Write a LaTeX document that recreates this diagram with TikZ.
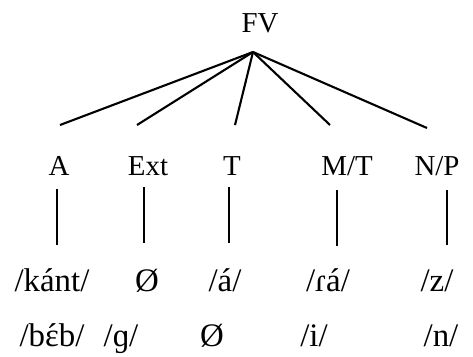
\documentclass[tikz,border=0pt]{standalone}
\usepackage{fontspec}
\setmainfont{Liberation Serif}
\newcommand{\epsacute}{\ooalign{ɛ\cr\hidewidth\symbol{"00B4}\hidewidth\cr}}
\begin{document}
\begin{tikzpicture}[x=1bp,y=-1bp,
  lbl/.style={anchor=base,inner sep=0pt,font=\fontsize{29}{30}\selectfont},
  ph/.style={anchor=base,inner sep=0pt,font=\fontsize{33}{34}\selectfont},
  br/.style={line width=2.1bp}]
\useasboundingbox (0,0) rectangle (473,356);
\node[lbl] (FV) at (260,32) {FV};
\coordinate (apex) at (253,52);
\node[lbl] (A) at (59,175) {A};
\node[lbl] (Ext) at (148,175) {Ext};
\node[lbl] (T) at (232,175) {T};
\node[lbl] (MT) at (347,175) {M/T};
\node[lbl] (NP) at (437,175) {N/P};
\coordinate (eA) at (60,125);
\coordinate (eExt) at (137,125);
\coordinate (eT) at (235,125);
\coordinate (eMT) at (330,125);
\coordinate (eNP) at (427,128);
\foreach \e in {eA,eExt,eT,eMT,eNP} \draw[br] (apex) -- (\e);
% vertical lines
\coordinate (vA1) at (57,189); \coordinate (vA2) at (57,245);
\coordinate (vE1) at (144,187); \coordinate (vE2) at (144,243);
\coordinate (vT1) at (229,187); \coordinate (vT2) at (229,243);
\coordinate (vM1) at (337,190); \coordinate (vM2) at (337,246);
\coordinate (vN1) at (447,190); \coordinate (vN2) at (447,245);
\draw[br] (vA1) -- (vA2);
\draw[br] (vE1) -- (vE2);
\draw[br] (vT1) -- (vT2);
\draw[br] (vM1) -- (vM2);
\draw[br] (vN1) -- (vN2);
% row 3
\node[ph] (r1a) at (52,291) {/kánt/};
\node[ph] (r1b) at (147,291) {Ø};
\node[ph] (r1c) at (225,291) {/á/};
\node[ph] (r1d) at (328,291) {/ɾá/};
\node[ph] (r1e) at (437,291) {/z/};
% row 4
\node[ph] (r2a) at (52,346) {/b\epsacute b/};
\node[ph] (r2b) at (121,346) {/ɡ/};
\node[ph] (r2c) at (212,346) {Ø};
\node[ph] (r2d) at (314,346) {/i/};
\node[ph] (r2e) at (441,346) {/n/};
\end{tikzpicture}
\end{document}
